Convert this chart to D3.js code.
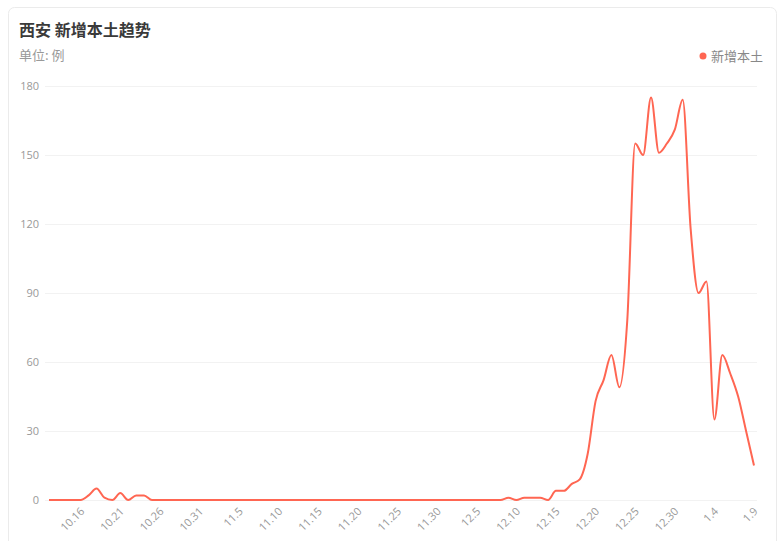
<!DOCTYPE html>
<html><head><meta charset="utf-8">
<script src="https://cdn.jsdelivr.net/npm/d3@7/dist/d3.min.js"></script>
<style>
html,body{margin:0;padding:0;background:#fff;}
svg{display:block;font-family:"Noto Sans CJK SC","Open Sans",sans-serif;}
</style></head>
<body>
<svg id="chart" width="780" height="541"></svg>
<script>
const dates = [
"10.12","10.13","10.14","10.15","10.16","10.17","10.18","10.19","10.20","10.21","10.22","10.23","10.24","10.25","10.26","10.27","10.28","10.29","10.30","10.31",
"11.1","11.2","11.3","11.4","11.5","11.6","11.7","11.8","11.9","11.10","11.11","11.12","11.13","11.14","11.15","11.16","11.17","11.18","11.19","11.20","11.21","11.22","11.23","11.24","11.25","11.26","11.27","11.28","11.29","11.30",
"12.1","12.2","12.3","12.4","12.5","12.6","12.7","12.8","12.9","12.10","12.11","12.12","12.13","12.14","12.15","12.16","12.17","12.18","12.19","12.20","12.21","12.22","12.23","12.24","12.25","12.26","12.27","12.28","12.29","12.30","12.31",
"1.1","1.2","1.3","1.4","1.5","1.6","1.7","1.8","1.9"];
const values = [
0,0,0,0,0,2,5,1,0,3,0,2,2,0,0,0,0,0,0,0,
0,0,0,0,0,0,0,0,0,0,0,0,0,0,0,0,0,0,0,0,0,0,0,0,0,0,0,0,0,0,
0,0,0,0,0,0,0,0,1,0,1,1,1,0,4,4,7,9,20,43,52,63,49,78,155,150,175,151,155,161,174,
118,90,95,35,63,55,45,30,15];
const tickLabels = ["10.16","10.21","10.26","10.31","11.5","11.10","11.15","11.20","11.25","11.30","12.5","12.10","12.15","12.20","12.25","12.30","1.4","1.9"];
const yTicks = [0,30,60,90,120,150,180];
const seriesName = "新增本土";
const title = "西安 新增本土趋势";
const unit = "单位: 例";

const svg = d3.select("#chart");
const lineColor = "#ff6652";

// card
svg.append("rect").attr("x",8.5).attr("y",7.5).attr("width",768).attr("height",545)
  .attr("rx",6).attr("fill","#fff").attr("stroke","#ebebeb");

svg.append("text").attr("x",19).attr("y",36).text(title)
  .attr("font-size",16).attr("font-weight","bold").attr("fill","#3a3a3a");
svg.append("text").attr("x",19).attr("y",60).text(unit)
  .attr("font-size",13).attr("fill","#999");

// legend
svg.append("circle").attr("cx",703).attr("cy",56).attr("r",3.5).attr("fill",lineColor);
svg.append("text").attr("x",711).attr("y",61).text(seriesName)
  .attr("font-size",13).attr("fill","#888");

const x = d3.scalePoint().domain(dates).range([49,754]);
const y = d3.scaleLinear().domain([0,180]).range([500,86]);

// grid
const yAxis = d3.axisLeft(y).tickValues(yTicks).tickSize(-712).tickPadding(6);
const gy = svg.append("g").attr("transform","translate(45,0)").call(yAxis);
gy.select(".domain").remove();
gy.selectAll(".tick line").attr("stroke","#f2f2f2");
gy.selectAll(".tick text").attr("font-size",11).attr("fill","#999")
  .attr("font-family","'Open Sans',sans-serif");

// x labels
const xAxis = d3.axisBottom(x).tickValues(tickLabels).tickSize(0).tickPadding(0);
const gx = svg.append("g").attr("transform","translate(0,500)").call(xAxis);
gx.select(".domain").remove();
gx.selectAll(".tick text")
  .attr("font-size",11).attr("fill","#999")
  .attr("font-family","'Open Sans',sans-serif")
  .attr("text-anchor","end")
  .attr("dy",0)
  .attr("transform","translate(4,12) rotate(-45)");

// line
const line = d3.line()
  .x((d,i)=>x(dates[i]))
  .y(d=>y(d))
  .curve(d3.curveMonotoneX);
svg.append("path").datum(values).attr("d",line)
  .attr("fill","none").attr("stroke",lineColor).attr("stroke-width",2)
  .attr("stroke-linejoin","round");
</script>
</body></html>
